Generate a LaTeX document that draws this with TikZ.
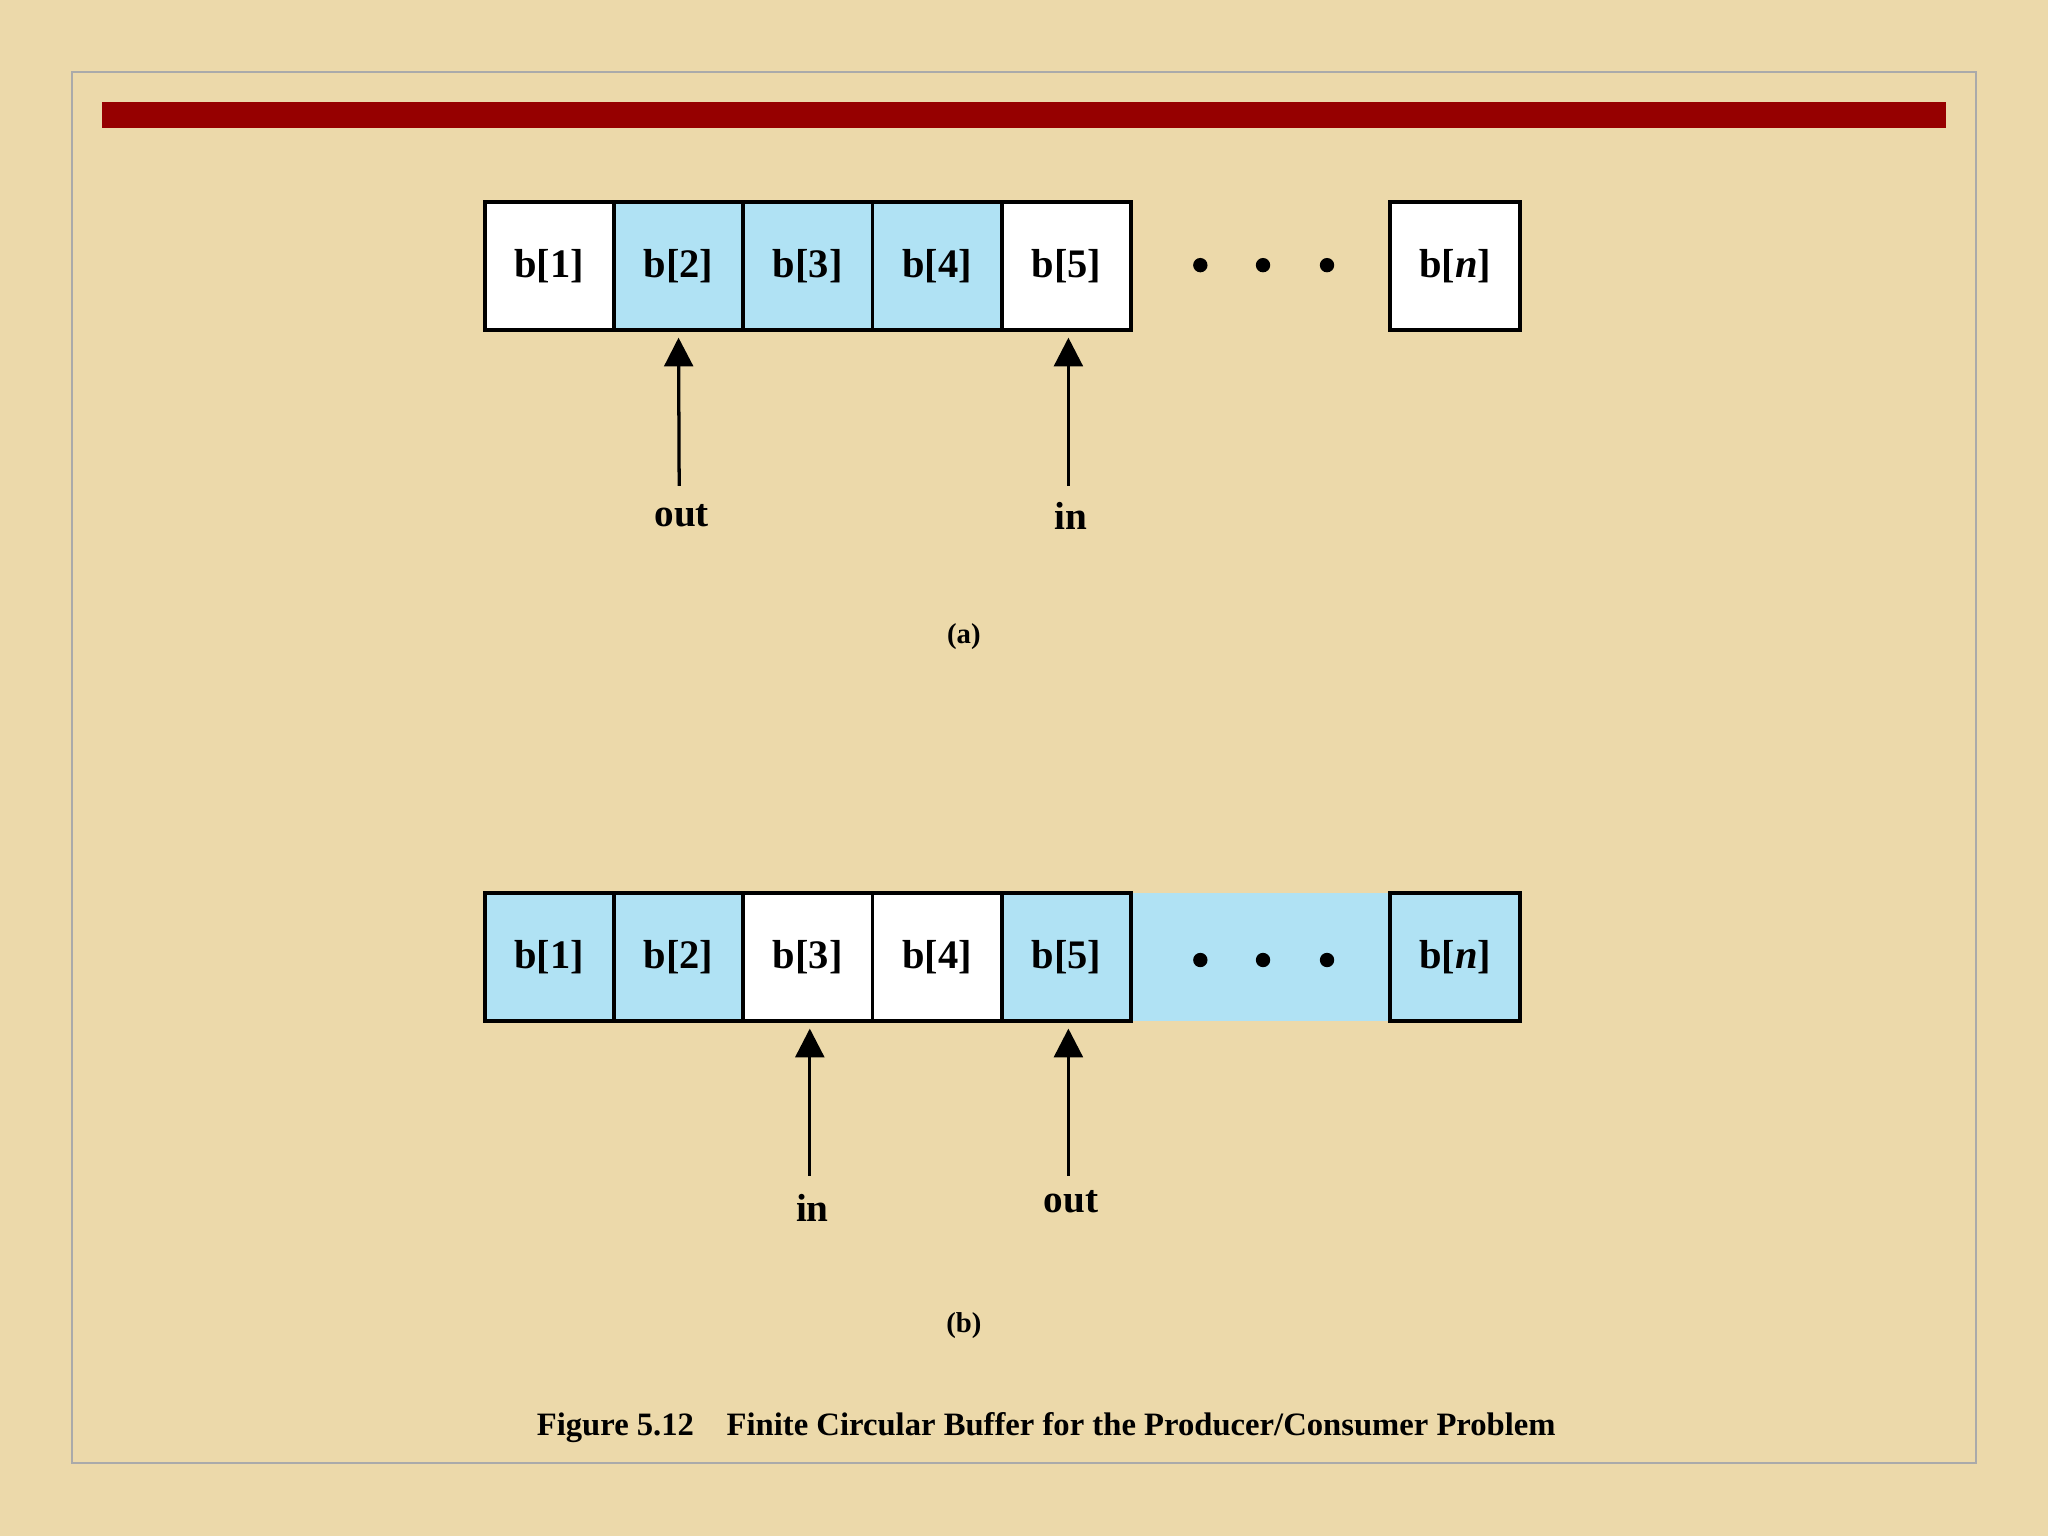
\documentclass[tikz,border=0pt]{standalone}
\usepackage{fontspec}
\setmainfont{Liberation Serif}
\definecolor{bg}{RGB}{236,217,170}
\definecolor{barred}{RGB}{150,0,0}
\definecolor{cellblue}{RGB}{176,226,244}
\definecolor{framegray}{RGB}{170,170,170}
\tikzset{
 cell/.style={draw=black,line width=3pt,minimum width=99pt,minimum height=98pt,inner sep=0pt,font=\bfseries\fontsize{31}{36}\selectfont},
 wcell/.style={cell,fill=white},
 bcell/.style={cell,fill=cellblue},
 dot/.style={circle,fill=black,inner sep=0pt,minimum size=11pt},
 ptr/.style={line width=2.5pt,-{Triangle[length=22pt,width=22pt]}},
 lbl/.style={font=\bfseries\fontsize{30}{34}\selectfont},
 sub/.style={font=\bfseries\fontsize{22}{26}\selectfont},
 capt/.style={font=\bfseries\fontsize{25}{29}\selectfont}
}
\usetikzlibrary{arrows.meta}
\begin{document}
\begin{tikzpicture}[x=1pt,y=-1pt]
\fill[bg] (0,0) rectangle (1568,1176);
\draw[framegray,line width=2pt] (55,55) rectangle (1513,1120);
\fill[barred] (78,78) rectangle (1490,98);
% row a
\node[wcell] (a1) at (420.5,204) {b[1]};
\node[bcell] (a2) at (519.5,204) {b[2]};
\node[bcell] (a3) at (618.5,204) {b[3]};
\node[bcell] (a4) at (717.5,204) {b[4]};
\node[wcell] (a5) at (816.5,204) {b[5]};
\node[wcell,minimum width=100pt] (an) at (1114,204) {b[\textit{n}]};
\node[dot] (ad1) at (919,203) {};
\node[dot] (ad2) at (967,203) {};
\node[dot] (ad3) at (1016,203) {};
\node[lbl] (aout) at (522,395) {out};
\node[lbl] (ain) at (820,395) {in};
\coordinate (aos) at (520,372);
\coordinate (ais) at (818,372);
\draw[ptr] (aos) -- ([yshift=-4pt]a2.south);
\draw[ptr] (ais) -- ([yshift=-4pt,xshift=1.5pt]a5.south);
\node[sub] (la) at (738,487) {(a)};
% row b
\fill[cellblue] (866,684) rectangle (1064,782);
\node[bcell] (b1) at (420.5,733) {b[1]};
\node[bcell] (b2) at (519.5,733) {b[2]};
\node[wcell] (b3) at (618.5,733) {b[3]};
\node[wcell] (b4) at (717.5,733) {b[4]};
\node[bcell] (b5) at (816.5,733) {b[5]};
\node[bcell,minimum width=100pt] (bn) at (1114,733) {b[\textit{n}]};
\node[dot] (bd1) at (919,735) {};
\node[dot] (bd2) at (967,735) {};
\node[dot] (bd3) at (1016,735) {};
\node[lbl] (bin) at (622,925) {in};
\node[lbl] (bout) at (820,920) {out};
\coordinate (bis) at (620,900);
\coordinate (bos) at (818,900);
\draw[ptr] (bis) -- ([yshift=-4pt,xshift=1.5pt]b3.south);
\draw[ptr] (bos) -- ([yshift=-4pt,xshift=1.5pt]b5.south);
\node[sub] (lb) at (738,1015) {(b)};
\node[capt] (cap) at (801,1093) {Figure 5.12\quad Finite Circular Buffer for the Producer/Consumer Problem};
\end{tikzpicture}
\end{document}
